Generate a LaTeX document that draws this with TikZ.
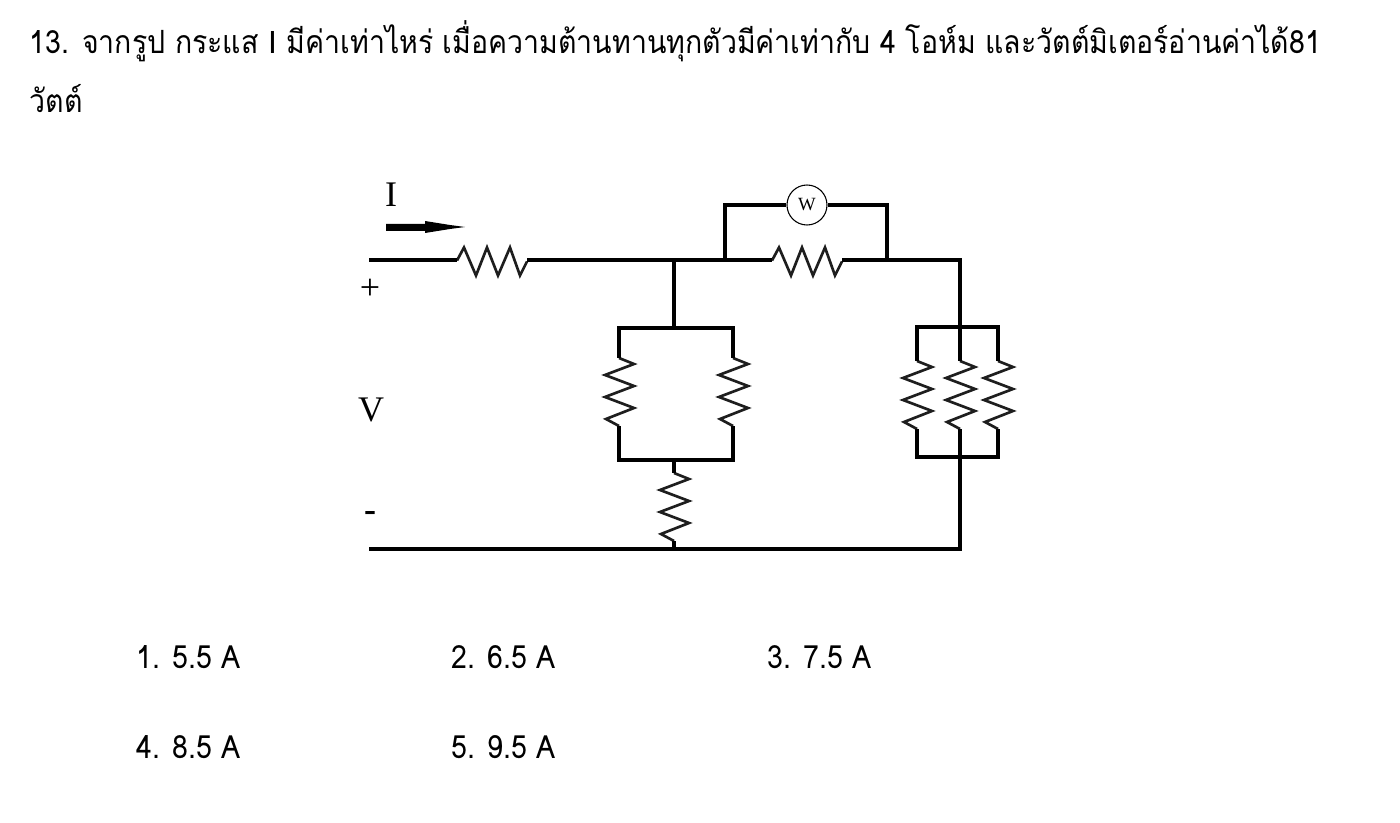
\documentclass[tikz,border=0pt]{standalone}
\usepackage{fontspec}
\setmainfont{Liberation Serif}
\newfontfamily\thaifont[Script=Thai,FakeStretch=0.89]{Loma}
\newfontfamily\latinfont{Liberation Sans}
\usetikzlibrary{positioning}
\tikzset{
  every pic/.style={yscale=-1},
  wire/.style={line width=3pt,line join=miter},
  zigzag/.style={line width=2pt,line join=miter,color={rgb, 255:red, 30; green, 30; blue, 30 }},
  stemtext/.style={anchor=base west,inner sep=0pt,font=\thaifont\fontsize{24}{24}\selectfont},
  choicetext/.style={anchor=base west,inner sep=0pt,font=\thaifont\fontsize{24}{24}\selectfont},
  bigtext/.style={inner sep=0pt,font=\fontsize{27}{27}\selectfont},
  reshoriz/.pic={
    \draw [zigzag] (0,0) -- (7,-13) -- (19,15) -- (30,-13) -- (41,15) -- (53,-13) -- (63,15) -- (70,1) ;
    \coordinate (-in) at (0,0);
    \coordinate (-out) at (70,0);
  },
  resvert/.pic={
    \draw [zigzag] (0,0) -- (15,6) -- (-14,17) -- (15,28) -- (-14,39) -- (15,50) -- (-13,61) -- (0,68) ;
    \coordinate (-in) at (0,0);
    \coordinate (-out) at (0,68);
  }
}

\begin{document}
\begin{tikzpicture}[x=0.75pt,y=0.75pt,yscale=-1,xscale=1]
\useasboundingbox (0,0) rectangle (1400,823);

% Text Node
\node (stema) [stemtext] at (29.5,54) {13. จากรูป กระแส {\latinfont I} มีค่าเท่าไหร่ เมื่อความต้านทานทุกตัวมีค่าเท่ากับ 4 โอห์ม และวัตต์มิเตอร์อ่านค่าได้81};
\node (stemb) [stemtext] at (29.5,113) {วัตต์};

%Terminals and junctions
\coordinate (plus) at (369,260.5);
\coordinate (minus) at (369,549);
\coordinate (tapa) at (674,260.5);
\coordinate (tapb) at (674,328.5);
\coordinate (tapc) at (674,460);
\coordinate (tapd) at (674,549);
\coordinate (meterl) at (725,260.5);
\coordinate (meterr) at (887,260.5);
\coordinate (corner) at (960,260.5);
\coordinate (topr) at (960,327.5);
\coordinate (botr) at (960,457);
\coordinate (cornerb) at (960,549);

%Resistors
\pic (rone) at (457,260.5) {reshoriz};
\pic (rtwo) at (772,260.5) {reshoriz};
\pic (rthree) at (619,358) {resvert};
\pic (rfour) at (733,358) {resvert};
\pic (rfive) at (674,473) {resvert};
\pic (rsix) at (917,361) {resvert};
\pic (rseven) at (960,361) {resvert};
\pic (reight) at (998,361) {resvert};

%Wattmeter
\node (meter) [draw,circle,line width=0.8pt,minimum size=30pt,inner sep=0pt,font=\fontsize{14}{14}\selectfont] at (807,205) {W};

%Straight Lines
\draw [wire] (plus) -- (rone-in) ;
\draw [wire] (rone-out) -- (rtwo-in) ;
\draw [wire] (rtwo-out) -- (corner) -- (topr) -- (rseven-in) ;
\draw [wire] (tapa) -- (tapb) ;
\draw [wire] (rthree-in) |- (tapb) -| (rfour-in) ;
\draw [wire] (rthree-out) |- (tapc) -| (rfour-out) ;
\draw [wire] (tapc) -- (rfive-in) ;
\draw [wire] (rfive-out) -- (tapd) ;
\draw [wire] (meterl) |- (meter.west) ;
\draw [wire] (meterr) |- (meter.east) ;
\draw [wire] (rsix-in) |- (topr) -| (reight-in) ;
\draw [wire] (rsix-out) |- (botr) -| (reight-out) ;
\draw [wire] (rseven-out) -- (botr) -- (cornerb) -- (minus) ;

%Current arrow
\fill (386,224) -- (425,224) -- (425,221) -- (450,225) -- (465,227) -- (450,229) -- (425,233) -- (425,231) -- (386,231) -- cycle ;

% Text Node
\node (lblcurrent) [bigtext] at (391,195) {I};
\node (lblplus) [bigtext] at (370,289) {+};
\node (lblvolt) [bigtext] at (371,410) {V};
\node (lblminus) [bigtext,font=\bfseries\fontsize{27}{27}\selectfont] at (370,516) {-};

% Text Node
\node (choicea) [choicetext] at (136,668) {1. 5.5 A};
\node (choiceb) [choicetext] at (451,668) {2. 6.5 A};
\node (choicec) [choicetext] at (767,668) {3. 7.5 A};
\node (choiced) [choicetext] at (136,758) {4. 8.5 A};
\node (choicee) [choicetext] at (451,758) {5. 9.5 A};

\end{tikzpicture}
\end{document}
